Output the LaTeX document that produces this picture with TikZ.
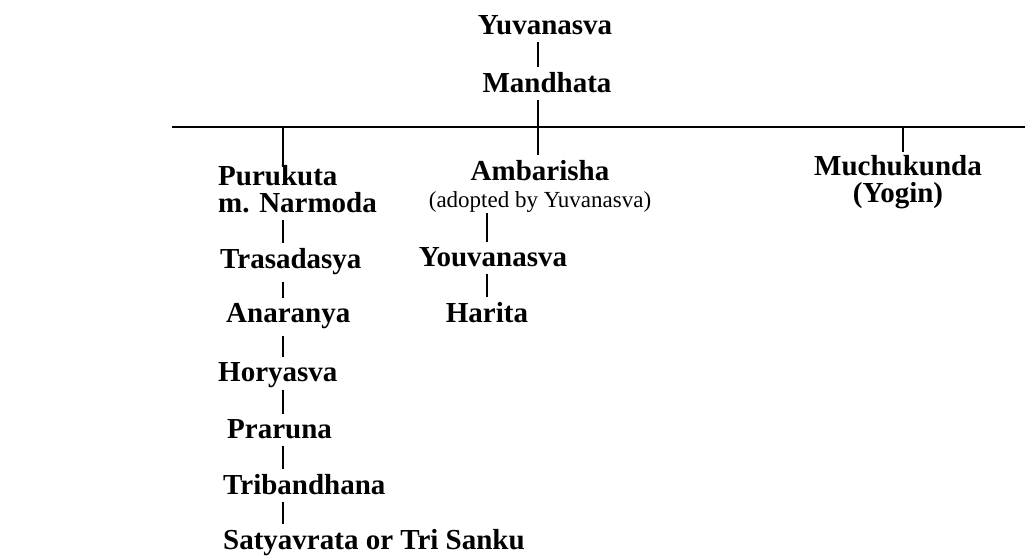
\documentclass[tikz,border=0pt]{standalone}
\usepackage{fontspec}
\setmainfont{Liberation Serif}
\usepackage{tikz}
\usetikzlibrary{positioning}

\begin{document}
\begin{tikzpicture}[
  x=1pt,y=-1pt,
  pname/.style={anchor=north,inner sep=0,font=\fontsize{29}{27}\selectfont\bfseries},
  lname/.style={pname,anchor=north west,align=left},
  ln/.style={line width=2pt,shorten <=7pt,shorten >=5pt},
  bar/.style={line width=2.3pt},
]
\useasboundingbox (0,0) rectangle (1025,556);
% --- top of the line ---
\node[pname] (yuva) at (545,15) {Yuvanasva};
\node[pname] (mand) at (547,72) {Mandhata};
\coordinate (barL) at (172,127);
\coordinate (barR) at (1025,127);
\coordinate (bPur) at (283,127);
\coordinate (bAmb) at (538,127);
\coordinate (bMuc) at (903,127);
\draw[bar] (barL) -- (barR);
% --- sons of Mandhata ---
\node[lname] (puru) at (218,165) {Purukuta\\m. Narmoda};
\node[pname,align=center] (amb) at (540,160)
  {Ambarisha\\{\mdseries\fontsize{23}{27}\selectfont (adopted by Yuvanasva)}};
\node[pname,align=center] (much) at (898,155) {Muchukunda\\(Yogin)};
\draw[ln] (yuva.south -| bAmb) -- (mand.north -| bAmb);
\draw[ln,shorten >=0pt] (mand.south -| bAmb) -- (bAmb);
\draw[ln,shorten <=0pt] (bAmb) -- (amb.north -| bAmb);
\draw[ln,shorten <=0pt,shorten >=-2pt] (bPur) -- (puru.north -| bPur);
\draw[ln,shorten <=0pt,shorten >=3pt] (bMuc) -- (much.north -| bMuc);
% --- line of Purukuta ---
\node[lname] (tras) at (220,248) {Trasadasya};
\node[lname] (anar) at (226,303) {Anaranya};
\node[lname] (hory) at (218,362) {Horyasva};
\node[lname] (prar) at (227,419) {Praruna};
\node[lname] (trib) at (223,474) {Tribandhana};
\node[lname] (saty) at (223,529) {Satyavrata or Tri Sanku};
\draw[ln] (puru.south -| bPur) -- (tras.north -| bPur);
\draw[ln] (tras.south -| bPur) -- (anar.north -| bPur);
\draw[ln] (anar.south -| bPur) -- (hory.north -| bPur);
\draw[ln,shorten <=2pt] (hory.south -| bPur) -- (prar.north -| bPur);
\draw[ln] (prar.south -| bPur) -- (trib.north -| bPur);
\draw[ln] (trib.south -| bPur) -- (saty.north -| bPur);
% --- line of Ambarisha ---
\node[pname] (youv) at (493,247) {Youvanasva};
\node[pname] (hari) at (487,302) {Harita};
\draw[ln,shorten <=1pt] (amb.south -| hari) -- (youv.north -| hari);
\draw[ln] (youv.south -| hari) -- (hari.north);
\end{tikzpicture}
\end{document}
